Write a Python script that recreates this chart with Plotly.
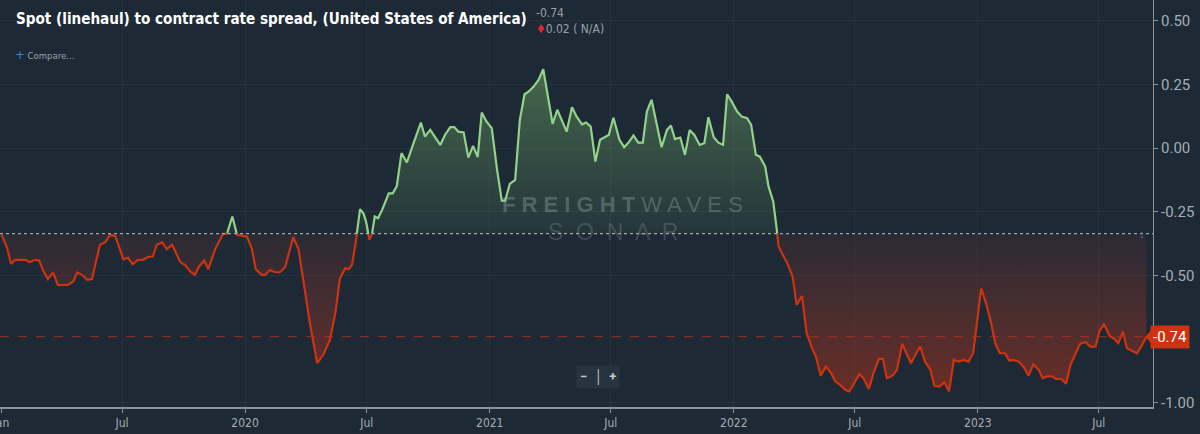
import numpy as np
import pandas as pd
import plotly.graph_objects as go

# ---------------- data ----------------
start_date = "2019-01-01"
days_since_start = [
    1, 9, 15, 21, 36, 43, 51, 57, 63, 70, 78, 85, 100, 108, 114, 121, 129, 136,
    148, 156, 163, 171, 183, 190, 197, 205, 212, 220, 227, 233, 241, 248, 256,
    268, 275, 283, 290, 296, 304, 310, 320, 332, 338, 346, 353, 368, 375, 381,
    390, 395, 402, 410, 417, 425, 437, 445, 452, 462, 473, 482, 492, 500, 507,
    515, 520, 525, 530, 537, 542, 546, 551, 555, 559, 564, 570, 580, 586, 592,
    599, 607, 617, 628, 634, 642, 657, 664, 672, 678, 684, 692, 699, 706, 713,
    719, 726, 734, 742, 749, 754, 761, 769, 776, 783, 789, 796, 804, 811, 819,
    825, 832, 839, 846, 854, 861, 869, 875, 882, 889, 896, 909, 916, 925, 932,
    938, 946, 953, 960, 966, 973, 981, 988, 996, 1002, 1008, 1016, 1023, 1030,
    1037, 1045, 1052, 1058, 1066, 1073, 1080, 1086, 1093, 1101, 1108, 1116,
    1122, 1129, 1135, 1143, 1148, 1155, 1161, 1163, 1168, 1176, 1184, 1190,
    1198, 1205, 1213, 1219, 1226, 1234, 1240, 1248, 1255, 1263, 1269, 1276,
    1284, 1290, 1298, 1305, 1313, 1319, 1325, 1333, 1340, 1348, 1355, 1361,
    1369, 1375, 1382, 1390, 1396, 1404, 1411, 1418, 1425, 1432, 1440, 1447,
    1454, 1460, 1466, 1474, 1481, 1487, 1494, 1502, 1508, 1514, 1522, 1529,
    1537, 1544, 1552, 1558, 1564, 1572, 1578, 1586, 1593, 1600, 1607, 1614,
    1622, 1629, 1637, 1643, 1650, 1658, 1664, 1671, 1678, 1684, 1692, 1699,
    1706, 1713,
]
spread = [
    -0.34, -0.39, -0.454, -0.438, -0.438, -0.447, -0.438, -0.441, -0.480, -0.514,
    -0.488, -0.537, -0.537, -0.523, -0.488, -0.497, -0.517, -0.514,
    -0.379, -0.369, -0.34, -0.345, -0.436, -0.43, -0.455, -0.438, -0.438, -0.427,
    -0.425, -0.379, -0.370, -0.396, -0.379,
    -0.447, -0.458, -0.484, -0.497, -0.465, -0.441, -0.475, -0.399, -0.336, -0.336,
    -0.268, -0.34, -0.347, -0.393, -0.475,
    -0.497, -0.497, -0.478, -0.487, -0.487, -0.467, -0.349, -0.396, -0.517, -0.687,
    -0.844, -0.811, -0.752, -0.648, -0.510,
    -0.471, -0.475, -0.458, -0.379, -0.239, -0.255, -0.288, -0.36, -0.334, -0.268,
    -0.275, -0.242, -0.177, -0.177, -0.148,
    -0.019, -0.056, 0.020, 0.101, 0.046, 0.072, 0.013, 0.052, 0.083, 0.083, 0.065,
    0.062, -0.037, 0.009, -0.035,
    0.140, 0.105, 0.079, -0.085, -0.206, -0.206, -0.140, -0.124, 0.111, 0.212, 0.222,
    0.240, 0.268, 0.310, 0.177,
    0.096, 0.151, 0.111, 0.065, 0.161, 0.124, 0.094, 0.101, 0.085, -0.052, 0.033,
    0.052, 0.120, 0.033, 0.004,
    0.020, 0.050, 0.022, 0.022, 0.144, 0.190, 0.092, 0.004, 0.072, 0.089, 0.036,
    0.042, -0.026, 0.072,
    0.052, 0.013, 0.020, 0.122, 0.043, 0.022, 0.013, 0.212, 0.183, 0.144, 0.124,
    0.118,
    0.092, -0.026, -0.033, -0.072, -0.151, -0.209, -0.334, -0.386, -0.412, -0.451,
    -0.504, -0.615,
    -0.580, -0.726, -0.785, -0.820, -0.893, -0.857, -0.877, -0.916, -0.929, -0.949,
    -0.955, -0.925,
    -0.887, -0.903, -0.945, -0.883, -0.827, -0.827, -0.903, -0.894, -0.870, -0.769,
    -0.811, -0.844,
    -0.805, -0.779, -0.838, -0.870, -0.933, -0.936, -0.919, -0.955, -0.831, -0.838,
    -0.831, -0.838,
    -0.805, -0.674, -0.550, -0.615, -0.687, -0.766, -0.805, -0.805, -0.834, -0.831,
    -0.838, -0.857,
    -0.893, -0.848, -0.870, -0.903, -0.896, -0.896, -0.906, -0.906, -0.925, -0.847,
    -0.805, -0.768,
    -0.761, -0.779, -0.779, -0.717, -0.690, -0.737, -0.746, -0.766, -0.720, -0.785,
    -0.796, -0.805,
    -0.776, -0.74,
]
baseline = -0.335
last_value = -0.74
x_tick_dates = ["2019-01-01", "2019-07-01", "2020-01-01", "2020-07-01", "2021-01-01",
                "2021-07-01", "2022-01-01", "2022-07-01", "2023-01-01", "2023-07-01"]
x_tick_labels = ["Jan", "Jul", "2020", "Jul", "2021", "Jul", "2022", "Jul", "2023", "Jul"]
y_tick_values = [0.5, 0.25, 0.0, -0.25, -0.5, -1.0]
y_tick_labels = ["0.50", "0.25", "0.00", "-0.25", "-0.50", "-1.00"]

# ---------------- processing: insert baseline crossings ----------------
d = np.array(days_since_start, dtype=float)
v = np.array(spread, dtype=float)
dd, vv = [], []
for i in range(len(v)):
    dd.append(d[i]); vv.append(v[i])
    if i < len(v) - 1 and (v[i] - baseline) * (v[i + 1] - baseline) < 0:
        f = (baseline - v[i]) / (v[i + 1] - v[i])
        dd.append(d[i] + f * (d[i + 1] - d[i])); vv.append(baseline)
dd = np.array(dd); vv = np.array(vv)
t = pd.Timestamp(start_date) + pd.to_timedelta(dd, unit="D")
eps = 1e-9
up_line = np.where(vv >= baseline - eps, vv, np.nan)
dn_line = np.where(vv <= baseline + eps, vv, np.nan)
up_fill = np.maximum(vv, baseline)
dn_fill = np.minimum(vv, baseline)
base_arr = np.full_like(vv, baseline)

BG = "#1d2935"
GREEN = "#92d389"
RED = "#cc3310"
GRID = "rgba(255,255,255,0.045)"
TICK = "#a7adb3"
NARROW = "DejaVu Sans Condensed, Roboto, sans-serif"

fig = go.Figure()
fig.add_trace(go.Scatter(x=t, y=base_arr, mode="lines", line=dict(width=0),
                         hoverinfo="skip", showlegend=False))
fig.add_trace(go.Scatter(
    x=t, y=up_fill, mode="lines", line=dict(width=0), fill="tonexty",
    fillgradient=dict(type="vertical",
                      colorscale=[[0, "rgba(110,170,105,0.10)"], [1, "rgba(120,180,110,0.45)"]],
                      start=baseline, stop=0.31),
    hoverinfo="skip", showlegend=False))
fig.add_trace(go.Scatter(x=t, y=base_arr, mode="lines", line=dict(width=0),
                         hoverinfo="skip", showlegend=False))
fig.add_trace(go.Scatter(
    x=t, y=dn_fill, mode="lines", line=dict(width=0), fill="tonexty",
    fillgradient=dict(type="vertical",
                      colorscale=[[0, "rgba(200,50,20,0.45)"], [1, "rgba(200,60,40,0.08)"]],
                      start=-0.96, stop=baseline),
    hoverinfo="skip", showlegend=False))
fig.add_trace(go.Scatter(x=t, y=up_line, mode="lines", line=dict(color=GREEN, width=2.2),
                         connectgaps=False, hoverinfo="skip", showlegend=False))
fig.add_trace(go.Scatter(x=t, y=dn_line, mode="lines", line=dict(color=RED, width=2.2),
                         connectgaps=False, hoverinfo="skip", showlegend=False))

# reference lines
fig.add_hline(y=baseline, line=dict(color="rgba(200,205,210,0.75)", width=1.3, dash="dot"))
fig.add_hline(y=last_value, line=dict(color="rgba(190,50,25,0.8)", width=1, dash="dash"))

# last value label with pointer
fig.add_shape(type="path", xref="paper", yref="y",
              path=f"M 1.0,{last_value + 0.036} L 0.9935,{last_value} L 1.0,{last_value - 0.036} Z",
              fillcolor=RED, line=dict(width=0), layer="above")
fig.add_annotation(x=0.9975, xref="paper", y=last_value, yref="y", xanchor="left", yanchor="middle",
                   text="-0.74", showarrow=False, bgcolor=RED, borderpad=2,
                   font=dict(family="Roboto", size=15, color="white"))
fig.add_annotation(x=0.9948, xref="paper", y=baseline, yref="y", text="↕", showarrow=False,
                   font=dict(size=11, color="#5a78a8"))

# title and header texts
fig.add_annotation(x=0.012, xref="paper", y=0.953, yref="paper", xanchor="left", yanchor="middle",
                   text="<b>Spot (linehaul) to contract rate spread, (United States of America)</b>",
                   showarrow=False, font=dict(family=NARROW, size=15.1, color="white"))
fig.add_annotation(x=0.4635, xref="paper", y=0.967, yref="paper", xanchor="left", yanchor="middle",
                   text="-0.74", showarrow=False, font=dict(family=NARROW, size=12, color="#9aa1a8"))
fig.add_annotation(x=0.4635, xref="paper", y=0.928, yref="paper", xanchor="left", yanchor="middle",
                   text="<span style='color:#e02a2a'>♦</span>0.02 ( N/A)", showarrow=False,
                   font=dict(family=NARROW, size=12, color="#9aa1a8"))
fig.add_annotation(x=0.011, xref="paper", y=0.867, yref="paper", xanchor="left", yanchor="middle",
                   text="<span style='color:#3f80d8;font-size:13px'>+</span> Compare...",
                   showarrow=False, font=dict(family=NARROW, size=9.5, color="#9aa1a8"))

# watermark
fig.add_annotation(x=0.54, xref="paper", y=0.497, yref="paper", xanchor="center", yanchor="middle",
                   text="<b>F R E I G H T</b> W A V E S", showarrow=False,
                   font=dict(family="Liberation Sans", size=22, color="rgba(175,185,190,0.32)"))
fig.add_annotation(x=0.532, xref="paper", y=0.43, yref="paper", xanchor="center", yanchor="middle",
                   text="S  O  N  A  R", showarrow=False,
                   font=dict(family="Liberation Sans", size=23, color="rgba(175,185,190,0.22)"))

# zoom buttons
fig.add_annotation(x=0.5187, xref="paper", y=0.073, yref="paper", xanchor="center", yanchor="middle",
                   text="<b>−</b>  │  <b>+</b>", showarrow=False, bgcolor="#27343f", borderpad=3,
                   font=dict(family="Roboto", size=13, color="#c5cad0"))

fig.update_layout(
    width=1200, height=434,
    margin=dict(l=0, r=47, t=0, b=27),
    paper_bgcolor=BG, plot_bgcolor=BG,
    showlegend=False,
    xaxis=dict(type="date", range=["2018-12-30 12:00", "2023-09-20"], automargin=False,
               tickvals=x_tick_dates, ticktext=x_tick_labels, ticklabeloverflow="allow",
               showgrid=True, gridcolor=GRID, gridwidth=1,
               showline=True, linecolor="#8b939b", linewidth=1.5,
               ticks="outside", ticklen=4, tickcolor="#8b939b",
               tickfont=dict(family=NARROW, size=12, color=TICK), zeroline=False),
    yaxis=dict(side="right", range=[-1.016, 0.582], automargin=False,
               tickvals=y_tick_values, ticktext=y_tick_labels, ticklabeloverflow="allow",
               showgrid=True, gridcolor=GRID, gridwidth=1,
               showline=True, linecolor="#8b939b", linewidth=1,
               ticks="outside", ticklen=4, tickcolor="#8b939b",
               tickfont=dict(family="Roboto", size=15, color=TICK), zeroline=False),
)

fig.write_html("out.html", config={"displayModeBar": False},
               post_script="document.body.style.margin='0';document.body.style.background='#1d2935';")
